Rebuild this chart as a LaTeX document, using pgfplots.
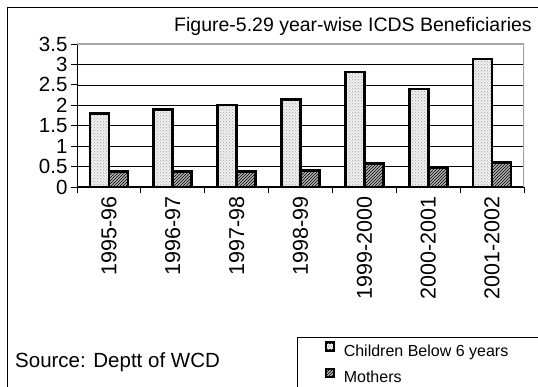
\documentclass[border=0pt]{standalone}
\usepackage{fontspec}
\setmainfont{Liberation Sans}
\usepackage{pgfplots}
\pgfplotsset{compat=1.18}
\usetikzlibrary{patterns}

\begin{document}
\begin{tikzpicture}[x=1pt,y=1pt]
\useasboundingbox (0,0) rectangle (538,387);
\draw[line width=1pt] (7.5,-5) -- (7.5,379.7) -- (545,379.7);
\draw[line width=0.8pt] (297,-10) rectangle (560,49.5);
\node[anchor=base east, inner sep=0pt, font=\fontsize{19.5}{23}\selectfont] at (532,355.3) {Figure-5.29 year-wise ICDS Beneficiaries};
\node[anchor=base west, inner sep=0pt, font=\fontsize{20.5}{24}\selectfont] at (15,19) {Source: Deptt of WCD};
\begin{axis}[
  at={(77pt,200pt)}, anchor=south west,
  scale only axis, width=447pt, height=143pt,
  xmin=0, xmax=7, ymin=0, ymax=3.5,
  ybar=0pt, bar width=19pt,
  axis x line*=bottom, axis y line*=left,
  axis line style={black, line width=1pt, -},
  xtick={0.5,1.5,2.5,3.5,4.5,5.5,6.5},
  xticklabels={1995-96,1996-97,1997-98,1998-99,1999-2000,2000-2001,2001-2002},
  minor xtick={0,1,2,3,4,5,6,7},
  major x tick style={draw=none},
  minor x tick style={black, line width=0.8pt},
  ytick={0,0.5,1,1.5,2,2.5,3,3.5},
  yticklabels={0,0.5,1,1.5,2,2.5,3,3.5},
  y tick style={black, line width=0.8pt},
  ymajorgrids, grid style={black, line width=0.7pt},
  tick align=outside, major tick length=6pt, minor tick length=6pt,
  xticklabel style={rotate=90, anchor=east, font=\fontsize{21.5}{25}\selectfont},
  yticklabel style={font=\fontsize{20.5}{24}\selectfont},
  legend cell align=left,
  legend image code/.code={\draw[#1, line width=1.8pt] (0pt,1.7pt) rectangle (8pt,9.7pt);},
  legend style={at={(axis description cs:0.5548,-1.0818)}, anchor=north west,
    draw=none, fill=none, inner sep=0pt, outer sep=0pt,
    font=\fontsize{16}{19}\selectfont, row sep=8pt, column sep=9pt,
    nodes={inner sep=0pt, text height=12pt, text depth=4pt}},
]
\addplot[draw=black, line width=2.6pt, preaction={fill=gray!12}, pattern=crosshatch dots, pattern color=gray!75]
  coordinates {(0.5,1.80) (1.5,1.89) (2.5,2.01) (3.5,2.14) (4.5,2.81) (5.5,2.40) (6.5,3.13)};
\addplot[draw=black, line width=2.6pt, preaction={fill=gray!60}, pattern=north east lines, pattern color=black]
  coordinates {(0.5,0.38) (1.5,0.38) (2.5,0.38) (3.5,0.40) (4.5,0.57) (5.5,0.48) (6.5,0.60)};
\legend{Children Below 6 years, Mothers}
\draw[gray!70, line width=1.5pt] (rel axis cs:0,1) -- (rel axis cs:1,1) -- (rel axis cs:1,0);
\end{axis}
\end{tikzpicture}
\end{document}
